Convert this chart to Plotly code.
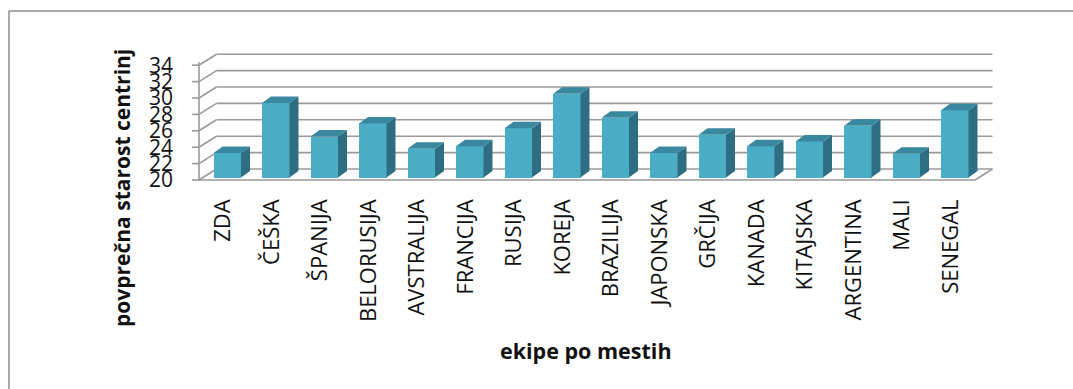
import plotly.graph_objects as go

# --- data -----------------------------------------------------------------
categories = ["ZDA", "ČEŠKA", "ŠPANIJA", "BELORUSIJA", "AVSTRALIJA", "FRANCIJA",
              "RUSIJA", "KOREJA", "BRAZILIJA", "JAPONSKA", "GRČIJA", "KANADA",
              "KITAJSKA", "ARGENTINA", "MALI", "SENEGAL"]
avg_age = [23.0, 29.1, 25.0, 26.6, 23.5, 23.8, 26.0, 30.2,
           27.3, 23.0, 25.2, 23.8, 24.4, 26.3, 22.9, 28.2]
y_ticks = [20, 22, 24, 26, 28, 30, 32, 34]
y_title = "povprečna starost centrinj"
x_title = "ekipe po mestih"

# --- page / plot geometry (pixels) ------------------------------------------
W, H = 1073, 389
PL, PR, PT, PB = 180, 1010, 40, 192          # plot area edges
CX0, CW = 223.25, 48.5                       # first category centre, px per category
VY0, VU = 180.0, 8.2                         # pixel row of value 20, px per unit
V_MIN = y_ticks[0]

x_range = [(PL - CX0) / CW, (PR - CX0) / CW]
y_range = [V_MIN - (PB - VY0) / VU, V_MIN + (VY0 - PT) / VU]


def dx(px):
    return px / CW


def dv(px):
    return px / VU


def paper_x(px):
    return (px - PL) / (PR - PL)


def paper_y(py):
    return (PB - py) / (PB - PT)


# 3D look: offsets of the back wall and of the bar plane from the front edge
BACK = (dx(17.5), dv(11.0))
BAR_SHIFT = (dx(4.0), dv(2.5))
BAR_DEPTH = (dx(9.0), dv(6.5))
BAR_W = dx(27.5)

GRID = "#9a9a9a"
FRONT = "#4BACC6"
TOP = "#3A889F"
SIDE = "#2E6E82"

x_left = -0.5
x_right = len(categories) - 0.5

shapes = []


def seg(x0, y0, x1, y1, color=GRID, width=1.6):
    shapes.append(dict(type="line", xref="x", yref="y", x0=x0, y0=y0, x1=x1, y1=y1,
                       line=dict(color=color, width=width), layer="below"))


# back wall grid lines and side wall diagonals
for v in y_ticks:
    seg(x_left + BACK[0], v + BACK[1], x_right + BACK[0], v + BACK[1])
    seg(x_left, v, x_left + BACK[0], v + BACK[1])
    seg(x_left - dx(7), v, x_left, v)          # tick mark on the front axis
# floor front and right edges, front vertical axis
seg(x_left, V_MIN, x_right, V_MIN)
seg(x_right, V_MIN, x_right + BACK[0], V_MIN + BACK[1])
seg(x_left, V_MIN, x_left, y_ticks[-1] + dv(3))

# outer chart frame
frame = dict(color="#8c8c8c", width=1.5)
shapes.append(dict(type="line", xref="paper", yref="paper",
                   x0=paper_x(9), y0=paper_y(11), x1=paper_x(W + 5), y1=paper_y(11),
                   line=frame, layer="below"))
shapes.append(dict(type="line", xref="paper", yref="paper",
                   x0=paper_x(9), y0=paper_y(11), x1=paper_x(9), y1=paper_y(H + 5),
                   line=frame, layer="below"))

fig = go.Figure()

# front faces of the columns
xs = list(range(len(categories)))
base = V_MIN + BAR_SHIFT[1]
fig.add_trace(go.Bar(
    x=[i + BAR_SHIFT[0] for i in xs],
    y=[v - V_MIN for v in avg_age],
    base=[base] * len(avg_age),
    width=BAR_W,
    marker=dict(color=FRONT, line=dict(width=0)),
    hoverinfo="skip",
    showlegend=False,
))

# side and top faces
side_x, side_y, top_x, top_y = [], [], [], []
for i, v in zip(xs, avg_age):
    xl = i + BAR_SHIFT[0] - BAR_W / 2
    xr = i + BAR_SHIFT[0] + BAR_W / 2
    yt = v + BAR_SHIFT[1]
    ddx, ddy = BAR_DEPTH
    side_x += [xr, xr + ddx, xr + ddx, xr, xr, None]
    side_y += [base, base + ddy, yt + ddy, yt, base, None]
    top_x += [xl, xr, xr + ddx, xl + ddx, xl, None]
    top_y += [yt, yt, yt + ddy, yt + ddy, yt, None]

fig.add_trace(go.Scatter(x=side_x, y=side_y, mode="lines", fill="toself",
                         fillcolor=SIDE, line=dict(width=0, color=SIDE),
                         hoverinfo="skip", showlegend=False))
fig.add_trace(go.Scatter(x=top_x, y=top_y, mode="lines", fill="toself",
                         fillcolor=TOP, line=dict(width=0, color=TOP),
                         hoverinfo="skip", showlegend=False))

fig.update_layout(
    width=W, height=H, autosize=False,
    margin=dict(l=PL, r=W - PR, t=PT, b=H - PB, pad=0),
    paper_bgcolor="white", plot_bgcolor="white",
    font=dict(family="Open Sans", color="#111111"),
    shapes=shapes,
    showlegend=False,
    bargap=0,
    xaxis=dict(range=x_range, tickmode="array", tickvals=xs, ticktext=categories,
               tickangle=-90, tickfont=dict(size=22, family="Open Sans"),
               showgrid=False, zeroline=False, showline=False, ticks="",
               ticklabelstandoff=2, fixedrange=True),
    yaxis=dict(range=y_range, tickmode="array", tickvals=y_ticks,
               ticktext=[str(t) for t in y_ticks],
               tickfont=dict(size=21, family="Open Sans"),
               showgrid=False, zeroline=False, showline=False, ticks="",
               ticklabelstandoff=6, fixedrange=True),
    annotations=[
        dict(text=f"<b>{y_title}</b>", xref="paper", yref="paper",
             x=paper_x(122), y=paper_y(188), textangle=-90, showarrow=False,
             xanchor="center", yanchor="middle",
             font=dict(size=21, family="Open Sans", color="#111111")),
        dict(text=f"<b>{x_title}</b>", xref="paper", yref="paper",
             x=paper_x(586), y=paper_y(350), showarrow=False,
             xanchor="center", yanchor="middle",
             font=dict(size=21.5, family="Open Sans", color="#111111")),
    ],
)

fig.write_html("out.html")
